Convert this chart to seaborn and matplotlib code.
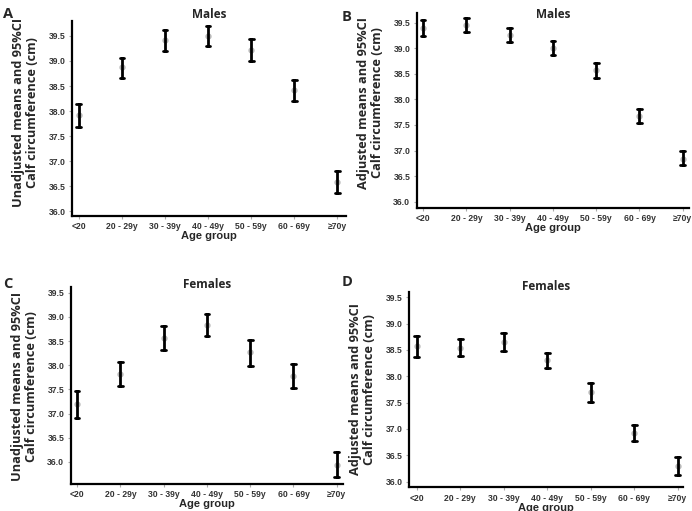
import numpy as np
import pandas as pd
import matplotlib
matplotlib.use("Agg")
import matplotlib.pyplot as plt
import seaborn as sns

categories = ["<20", "20 - 29y", "30 - 39y", "40 - 49y", "50 - 59y", "60 - 69y", "≥70y"]

# Panel A: males, unadjusted
a_mean = [37.92, 38.87, 39.41, 39.50, 39.22, 38.42, 36.59]
a_low = [37.69, 38.66, 39.20, 39.29, 38.99, 38.21, 36.37]
a_high = [38.15, 39.06, 39.61, 39.69, 39.44, 38.62, 36.81]
# Panel B: males, adjusted
b_mean = [39.39, 39.46, 39.26, 39.00, 38.57, 37.67, 36.84]
b_low = [39.23, 39.32, 39.12, 38.87, 38.42, 37.54, 36.71]
b_high = [39.55, 39.58, 39.39, 39.13, 38.71, 37.81, 36.99]
# Panel C: females, unadjusted
c_mean = [37.19, 37.82, 38.56, 38.84, 38.27, 37.78, 35.94]
c_low = [36.90, 37.57, 38.32, 38.61, 37.99, 37.54, 35.68]
c_high = [37.47, 38.06, 38.81, 39.06, 38.53, 38.02, 36.20]
# Panel D: females, adjusted
d_mean = [38.57, 38.54, 38.65, 38.30, 37.71, 36.93, 36.30]
d_low = [38.37, 38.38, 38.49, 38.16, 37.52, 36.77, 36.13]
d_high = [38.76, 38.71, 38.82, 38.45, 37.88, 37.08, 36.46]

yticks = [36.0, 36.5, 37.0, 37.5, 38.0, 38.5, 39.0, 39.5]

sns.set_style("white")
plt.rcParams["font.family"] = ["Liberation Sans", "DejaVu Sans"]

fig = plt.figure(figsize=(6.92, 5.11), dpi=100)

panels = [
    dict(letter="A", title="Males", mean=a_mean, low=a_low, high=a_high,
         ylabel="Unadjusted means and 95%CI\nCalf circumference (cm)",
         rect=[0.104, 0.577, 0.396, 0.382], ylim=(35.90, 39.80), xlim=(-0.16, 6.2),
         letter_xy=(0.004, 0.986), title_y=0.985, label_xy=(-0.17, 0.53)),
    dict(letter="B", title="Males", mean=b_mean, low=b_low, high=b_high,
         ylabel="Adjusted means and 95%CI\nCalf circumference (cm)",
         rect=[0.602, 0.593, 0.394, 0.382], ylim=(35.88, 39.69), xlim=(-0.15, 6.15),
         letter_xy=(0.494, 0.980), title_y=0.985, label_xy=(-0.168, 0.54)),
    dict(letter="C", title="Females", mean=c_mean, low=c_low, high=c_high,
         ylabel="Unadjusted means and 95%CI\nCalf circumference (cm)",
         rect=[0.102, 0.0534, 0.394, 0.384], ylim=(35.55, 39.61), xlim=(-0.15, 6.15),
         letter_xy=(0.004, 0.458), title_y=0.455, label_xy=(-0.17, 0.495)),
    dict(letter="D", title="Females", mean=d_mean, low=d_low, high=d_high,
         ylabel="Adjusted means and 95%CI\nCalf circumference (cm)",
         rect=[0.5915, 0.0464, 0.3955, 0.383], ylim=(35.89, 39.61), xlim=(-0.17, 6.12),
         letter_xy=(0.494, 0.462), title_y=0.452, label_xy=(-0.17, 0.5)),
]

for p in panels:
    ax = fig.add_axes(p["rect"])
    rows = []
    for cat, lo, m, hi in zip(categories, p["low"], p["mean"], p["high"]):
        for v in (lo, m, hi):
            rows.append({"Age group": cat, "value": v})
    df = pd.DataFrame(rows)
    sns.pointplot(data=df, x="Age group", y="value", order=categories,
                  estimator=np.median,
                  errorbar=lambda v: (np.min(v), np.max(v)),
                  linestyle="none", markers="o", color="#b8b8b8",
                  markersize=2.5, capsize=0.11,
                  err_kws={"color": "black", "linewidth": 2.0},
                  ax=ax)
    ax.set_xlim(*p["xlim"])
    ax.set_ylim(*p["ylim"])
    ax.set_yticks(yticks)
    ax.set_yticklabels([f"{t:.1f}" for t in yticks])
    ax.tick_params(axis="both", labelsize=6.2, length=2.5, width=0.8, color="#aaaaaa",
                   pad=2, bottom=True, left=True)
    for lab in ax.get_xticklabels() + ax.get_yticklabels():
        lab.set_fontweight("bold")
        lab.set_color("#333333")
    for side in ["top", "right"]:
        ax.spines[side].set_visible(False)
    for side in ["left", "bottom"]:
        ax.spines[side].set_linewidth(1.6)
        ax.spines[side].set_color("black")
    ax.set_xlabel("Age group", fontsize=8, fontweight="bold", labelpad=0)
    ax.set_ylabel(p["ylabel"], fontsize=9.2, fontweight="bold",
                  family=["Open Sans", "DejaVu Sans"], linespacing=1.1,
                  ha="center", va="center")
    ax.yaxis.set_label_coords(*p["label_xy"])
    cx = p["rect"][0] + p["rect"][2] / 2
    fig.text(cx, p["title_y"], p["title"], ha="center", va="top",
             fontsize=8.5, fontweight="bold", family=["Open Sans", "DejaVu Sans"])
    fig.text(p["letter_xy"][0], p["letter_xy"][1], p["letter"], ha="left", va="top",
             fontsize=10.5, fontweight="bold", family=["Open Sans", "DejaVu Sans"])

fig.savefig("out.png", dpi=100)
